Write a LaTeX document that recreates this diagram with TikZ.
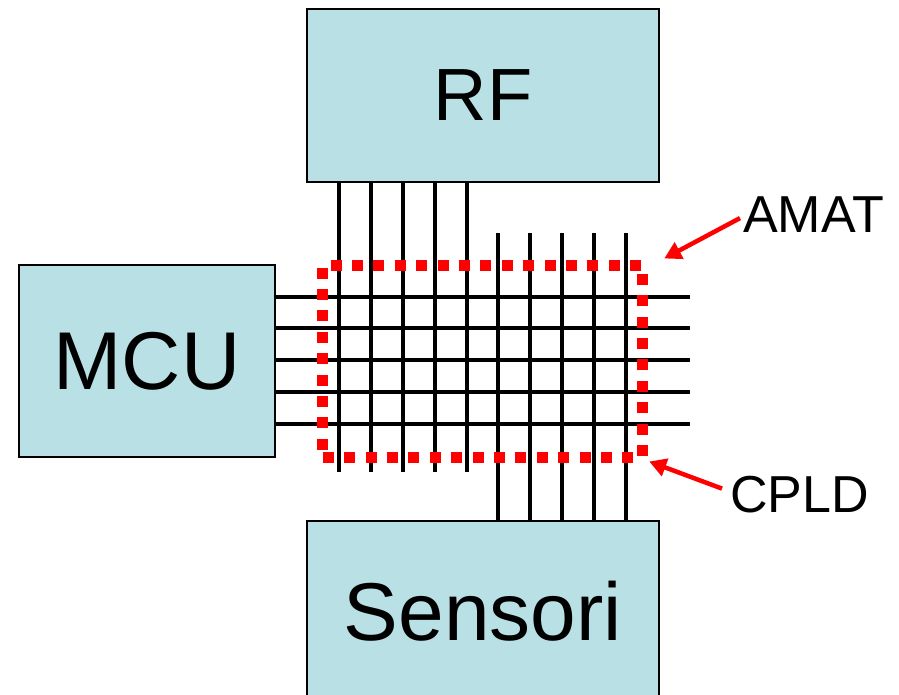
\documentclass[tikz,border=0pt]{standalone}
\usepackage{fontspec}
\setmainfont{Liberation Sans}
\usetikzlibrary{positioning,arrows.meta}
\definecolor{boxblue}{RGB}{185,224,228}
\tikzset{
  block/.style={draw=black, line width=1.2pt, fill=boxblue, inner sep=0pt,
    font=\fontsize{82}{82}\selectfont},
  wire/.style={line width=4pt},
  cpldbox/.style={draw=red, line width=11pt, dash pattern=on 11pt off 10.4pt,
    inner sep=0pt},
  tag/.style={inner sep=0pt, font=\fontsize{52}{52}\selectfont},
  callout/.style={red, line width=4.5pt, -{Triangle[length=17pt,width=18pt]}}
}
\begin{document}
\begin{tikzpicture}[x=1pt,y=-1pt]
\clip (0,0) rectangle (899,694);

\node[block, minimum width=352pt, minimum height=173pt,
  font=\fontsize{74}{74}\selectfont] (rf) at (483,95.5) {RF};
\node[block, minimum width=256pt, minimum height=192pt] (mcu) at (147,361) {MCU};
\node[block, minimum width=352pt, minimum height=180pt] (sen) at (483,611) {Sensori};

% bus lines
\foreach \i/\x in {1/339,2/371,3/403,4/435,5/467} {
  \coordinate (rfend\i) at (\x,472);
  \draw[wire] (rf.south -| rfend\i) -- (rfend\i);
}
\foreach \i/\x in {1/498,2/530,3/562,4/594,5/626} {
  \coordinate (senend\i) at (\x,233);
  \draw[wire] (sen.north -| senend\i) -- (senend\i);
}
\foreach \i/\y in {1/297,2/328,3/360,4/392,5/424} {
  \coordinate (mcuend\i) at (690,\y);
  \draw[wire] (mcu.east |- mcuend\i) -- (mcuend\i);
}

\node[cpldbox, minimum width=320pt, minimum height=192pt] (cpld) at (482.7,361) {};

\node[tag, anchor=base west] (amat) at (743,232) {AMAT};
\node[tag, anchor=base west] (cpldtag) at (730,512.5) {CPLD};
\draw[callout] ([xshift=-3pt,yshift=-4pt]amat.west) -- ([xshift=16pt,yshift=1pt]cpld.north east);
\draw[callout] ([xshift=-8pt,yshift=6pt]cpldtag.west) -- ([xshift=1pt,yshift=1pt]cpld.south east);
\end{tikzpicture}
\end{document}
